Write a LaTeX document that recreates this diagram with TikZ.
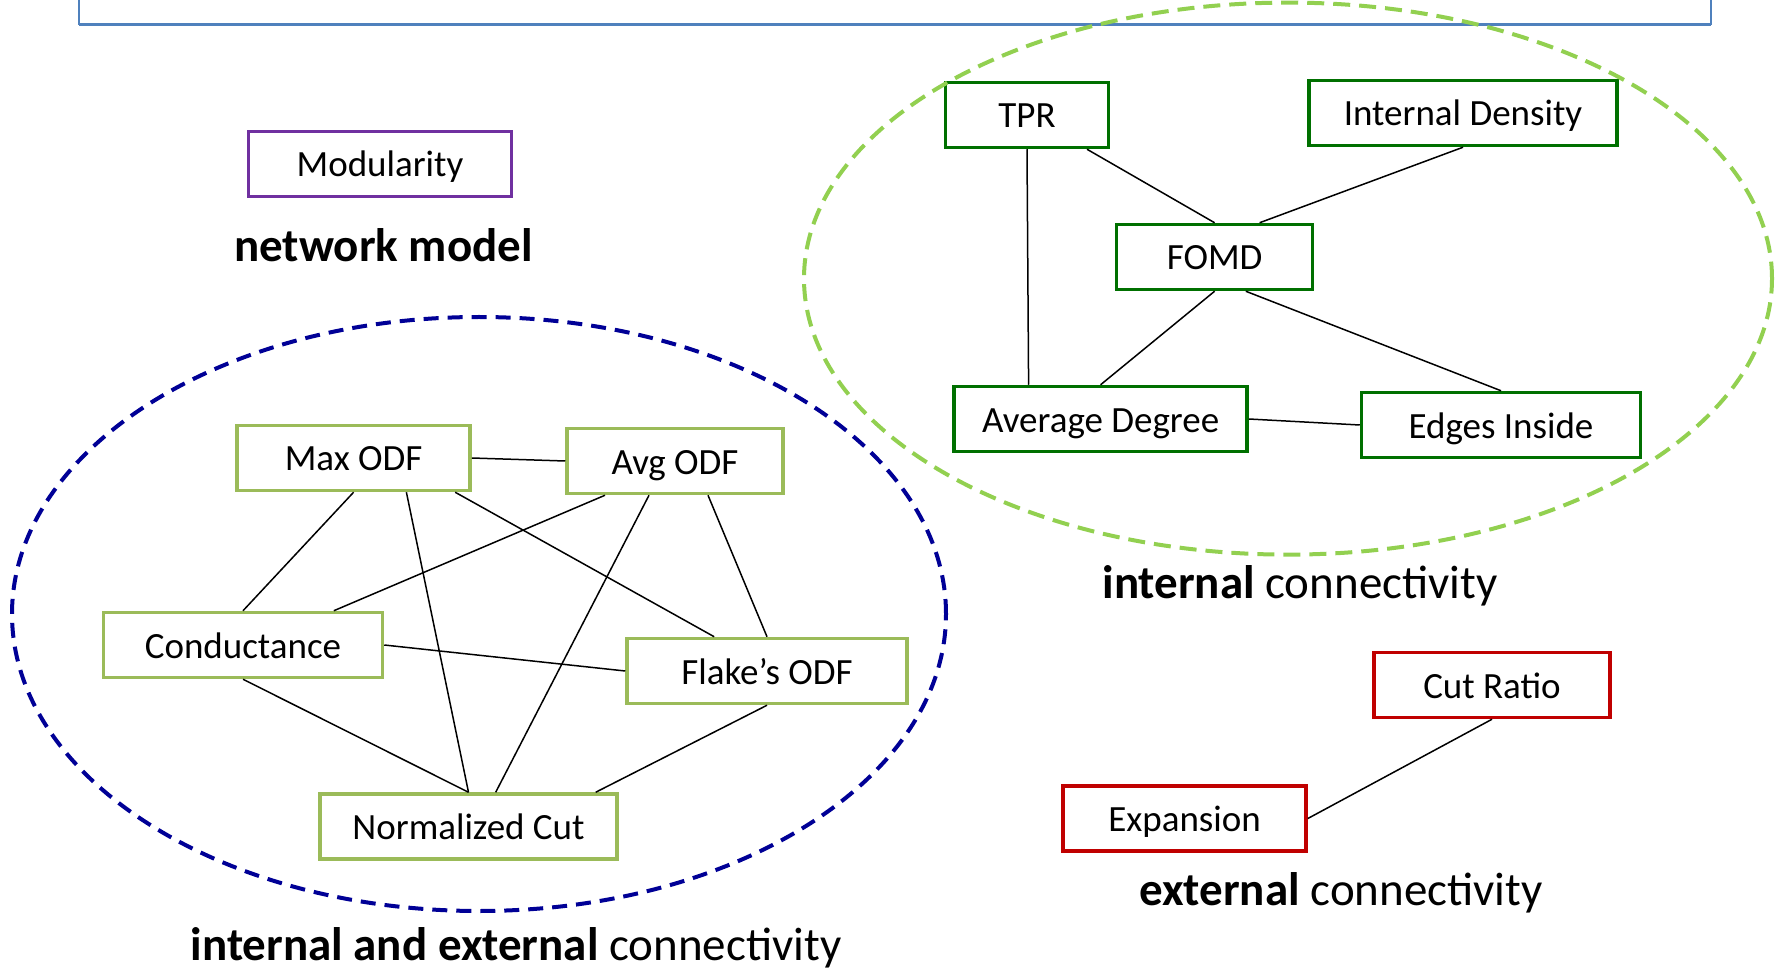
\documentclass[tikz,border=0pt]{standalone}
\usepackage{fontspec}
\setmainfont{Carlito}
\usepackage{tikz}
\definecolor{modcol}{RGB}{112,48,160}
\definecolor{intcol}{RGB}{0,112,0}
\definecolor{bothcol}{RGB}{155,187,89}
\definecolor{extcol}{RGB}{192,0,0}
\definecolor{intring}{RGB}{146,208,80}
\definecolor{bothring}{RGB}{0,0,150}
\definecolor{topblue}{RGB}{79,129,189}

\begin{document}
\begin{tikzpicture} [x = 0.5pt, y = -0.5pt,
	box/.style = {draw, line width = 1.75pt, minimum width = #1, minimum height = 32.5pt, inner sep = 0pt,
		text height = 13pt, text depth = 0pt, font = \fontsize{18.5}{22}\selectfont},
	edge/.style = {line width = 0.75pt},
	ring/.style = {line width = 2pt, dash pattern = on 8.5pt off 4.5pt},
	lbl/.style = {anchor = base, inner sep = 0pt, font = \fontsize{23.5}{28}\selectfont}]
		\useasboundingbox (0, 0) rectangle (1779, 973);
		\draw [topblue, line width = 0.75pt] (79, 0) -- (79, 25);
		\draw [topblue, line width = 0.75pt] (1711, 0) -- (1711, 25);
		\draw [topblue, line width = 1.5pt] (79, 25) -- (1711, 25);

		\node [box = 131.5pt, draw = modcol] (modularity) at (380, 164) {Modularity};
		\node [lbl] (netlbl) at (383.5, 262) {\textbf{network model}};

		\node [box = 81.5pt, draw = intcol] (tpr) at (1027, 115) {TPR};
		\node [box = 154pt, draw = intcol] (idens) at (1463, 113) {Internal Density};
		\node [box = 98pt, draw = intcol] (fomd) at (1214.6, 257) {FOMD};
		\node [box = 146.5pt, draw = intcol] (avgdeg) at (1100.6, 419) {Average Degree};
		\node [box = 139.5pt, draw = intcol] (edges) at (1501, 425) {Edges Inside};
			\draw [edge] ([xshift = 30pt] tpr.south) -- (fomd.north);
			\draw [edge] (idens.south) -- ([xshift = 22.5pt] fomd.north);
			\draw [edge] (tpr.south) -- ([xshift = -36pt] avgdeg.north);
			\draw [edge] (fomd.south) -- (avgdeg.north);
			\draw [edge] ([xshift = 15.6pt] fomd.south) -- (edges.north);
			\draw [edge] (avgdeg.east) -- (edges.west);
		\draw [ring, intring] (1288, 278.6) ellipse [x radius = 242pt, y radius = 138pt];
		\node [lbl] (intlbl) at (1300, 598) {\textbf{internal} connectivity};

		\node [box = 116.5pt, draw = bothcol] (maxodf) at (353.6, 458) {Max ODF};
		\node [box = 108pt, draw = bothcol] (avgodf) at (675, 461) {Avg ODF};
		\node [box = 139.5pt, draw = bothcol] (cond) at (243, 645) {Conductance};
		\node [box = 140pt, draw = bothcol] (flake) at (767, 671) {Flake’s ODF};
		\node [box = 148.5pt, draw = bothcol] (ncut) at (468.5, 826.5) {Normalized Cut};
			\draw [edge] (maxodf.east) -- (avgodf.west);
			\draw [edge] (maxodf.south) -- (cond.north);
			\draw [edge] ([xshift = 26.4pt] maxodf.south) -- (ncut.north);
			\draw [edge] ([xshift = 50.8pt] maxodf.south) -- ([xshift = -26.4pt] flake.north);
			\draw [edge] ([xshift = -35pt] avgodf.south) -- ([xshift = 45.4pt] cond.north);
			\draw [edge] ([xshift = -13pt] avgodf.south) -- ([xshift = 13.6pt] ncut.north);
			\draw [edge] ([xshift = 16.5pt] avgodf.south) -- (flake.north);
			\draw [edge] (cond.east) -- (flake.west);
			\draw [edge] (cond.south) -- (ncut.north);
			\draw [edge] (flake.south) -- ([xshift = 63.6pt] ncut.north);
		\draw [ring, bothring, dash pattern = on 7.5pt off 4.5pt] (479, 614) ellipse [x radius = 233.5pt, y radius = 148.5pt];
		\node [lbl] (bothlbl) at (516, 960) {\textbf{internal and external} connectivity};

		\node [box = 118pt, draw = extcol] (cutratio) at (1492, 685) {Cut Ratio};
		\node [box = 121.5pt, draw = extcol] (expansion) at (1184.6, 818.5) {Expansion};
			\draw [edge] (cutratio.south) -- (expansion.east);
		\node [lbl] (extlbl) at (1341, 905.5) {\textbf{external} connectivity};
\end{tikzpicture}
\end{document}
